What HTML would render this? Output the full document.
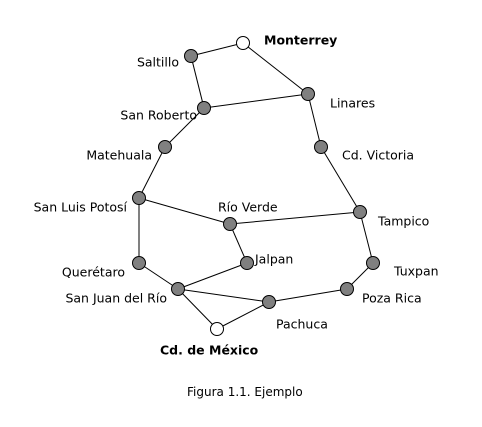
<!DOCTYPE html>
<html><head><meta charset="utf-8"><style>
html,body{margin:0;padding:0;background:#fff;}
svg{display:block;}
text{font-family:"DejaVu Sans","Liberation Sans",sans-serif;font-size:12.5px;fill:#000;dominant-baseline:central;}
.b{font-weight:bold;}
.f{font-size:12px;}
</style></head><body>
<svg width="482" height="427" viewBox="0 0 482 427" xmlns="http://www.w3.org/2000/svg">
<g stroke="#000" stroke-width="1">
<line x1="243" y1="43" x2="191" y2="56"/>
<line x1="191" y1="56" x2="204" y2="108"/>
<line x1="243" y1="43" x2="308" y2="94"/>
<line x1="204" y1="108" x2="308" y2="94"/>
<line x1="204" y1="108" x2="165" y2="147"/>
<line x1="308" y1="94" x2="321" y2="147"/>
<line x1="165" y1="147" x2="139" y2="198"/>
<line x1="321" y1="147" x2="360" y2="212"/>
<line x1="139" y1="198" x2="230" y2="224"/>
<line x1="230" y1="224" x2="360" y2="212"/>
<line x1="230" y1="224" x2="247" y2="263"/>
<line x1="139" y1="198" x2="139" y2="263"/>
<line x1="139" y1="263" x2="178" y2="289"/>
<line x1="247" y1="263" x2="178" y2="289"/>
<line x1="178" y1="289" x2="269" y2="302"/>
<line x1="178" y1="289" x2="217" y2="329"/>
<line x1="217" y1="329" x2="269" y2="302"/>
<line x1="269" y1="302" x2="347" y2="289"/>
<line x1="347" y1="289" x2="373" y2="263"/>
<line x1="373" y1="263" x2="360" y2="212"/>
</g>
<g stroke="#000" stroke-width="1" fill="#808080">
<circle cx="191" cy="56" r="6.5"/>
<circle cx="204" cy="108" r="6.5"/>
<circle cx="308" cy="94" r="6.5"/>
<circle cx="165" cy="147" r="6.5"/>
<circle cx="321" cy="147" r="6.5"/>
<circle cx="139" cy="198" r="6.5"/>
<circle cx="230" cy="224" r="6.5"/>
<circle cx="360" cy="212" r="6.5"/>
<circle cx="139" cy="263" r="6.5"/>
<circle cx="247" cy="263" r="6.5"/>
<circle cx="373" cy="263" r="6.5"/>
<circle cx="178" cy="289" r="6.5"/>
<circle cx="347" cy="289" r="6.5"/>
<circle cx="269" cy="302" r="6.5"/>
<circle cx="243" cy="43" r="6.5" fill="#fff"/>
<circle cx="217" cy="329" r="6.5" fill="#fff"/>
</g>
<text class="b" x="264" y="40">Monterrey</text>
<text x="179" y="62" text-anchor="end">Saltillo</text>
<text x="197" y="115" text-anchor="end">San Roberto</text>
<text x="152" y="155" text-anchor="end">Matehuala</text>
<text x="127" y="207" text-anchor="end">San Luis Potosí</text>
<text x="218" y="207">Río Verde</text>
<text x="255" y="259">Jalpan</text>
<text x="330" y="103">Linares</text>
<text x="342" y="155">Cd. Victoria</text>
<text x="378" y="221">Tampico</text>
<text x="394" y="271">Tuxpan</text>
<text x="125" y="272" text-anchor="end">Querétaro</text>
<text x="167" y="298" text-anchor="end">San Juan del Río</text>
<text x="362" y="298">Poza Rica</text>
<text x="276" y="324">Pachuca</text>
<text class="b" x="160" y="350">Cd. de México</text>
<text class="f" x="187" y="392">Figura 1.1. Ejemplo</text>
</svg>
</body></html>
